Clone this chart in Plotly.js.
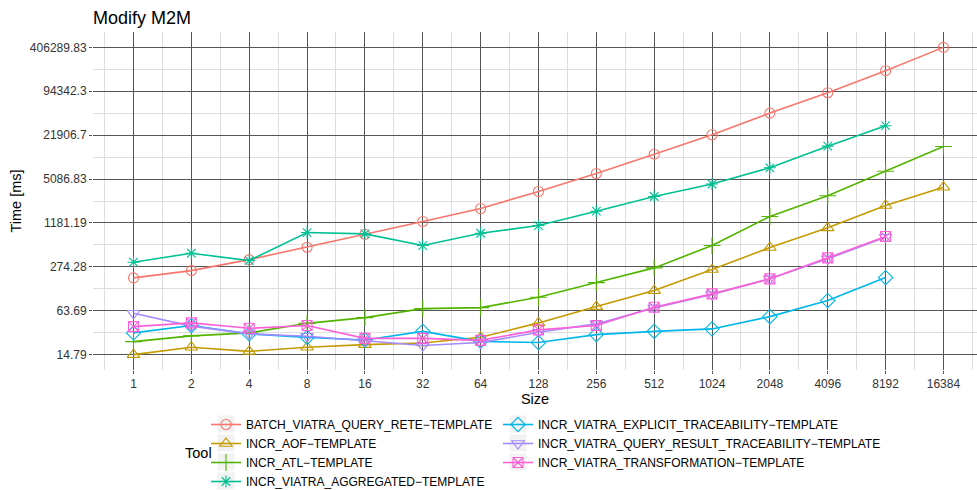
<!DOCTYPE html>
<html>
<head>
<meta charset="utf-8">
<script src="https://cdn.plot.ly/plotly-3.0.1.min.js"></script>
<style>
  html, body { margin: 0; padding: 0; background: #ffffff; overflow: hidden; }
  #chart { width: 977px; height: 490px; }
</style>
</head>
<body>
<div id="chart"></div>
<script>
// ---- Data ----
const sizes = [1, 2, 4, 8, 16, 32, 64, 128, 256, 512, 1024, 2048, 4096, 8192, 16384];
const sizeLabels = ["1", "2", "4", "8", "16", "32", "64", "128", "256", "512", "1024", "2048", "4096", "8192", "16384"];

const tools = [
  "BATCH_VIATRA_QUERY_RETE\u2212TEMPLATE",
  "INCR_AOF\u2212TEMPLATE",
  "INCR_ATL\u2212TEMPLATE",
  "INCR_VIATRA_AGGREGATED\u2212TEMPLATE",
  "INCR_VIATRA_EXPLICIT_TRACEABILITY\u2212TEMPLATE",
  "INCR_VIATRA_QUERY_RESULT_TRACEABILITY\u2212TEMPLATE",
  "INCR_VIATRA_TRANSFORMATION\u2212TEMPLATE"
];

const batchViatraQueryRete = [190, 242, 349, 527, 812, 1239, 1910, 3365, 6124, 11640, 22230, 45610, 89940, 187100, 406289.83];
const incrAof = [14.79, 18.9, 16.5, 18.9, 20.6, 21.8, 26.3, 42.5, 73.1, 124.5, 250.6, 521, 1004, 2111, 3882];
const incrAtl = [22.8, 27.6, 30.5, 41.9, 50.7, 68.4, 70.7, 99.7, 162.5, 265, 557, 1463, 2914, 6610, 15050];
const incrViatraAggregated = [320, 431, 338, 859, 822, 557, 839, 1084, 1745, 2849, 4317, 7400, 15200, 29990];
const incrViatraExplicit = [30.5, 38.9, 29.5, 26.3, 24.1, 32.1, 23.0, 22.1, 28.8, 32.1, 34.8, 52.4, 89.3, 192];
const incrViatraQueryResult = [58.5, 38.2, 29.5, 27.2, 23.5, 20.0, 22.1, 31.1, 41.1, 70, 109, 184, 358, 735];
const incrViatraTransformation = [37.6, 42.5, 35.5, 38.9, 25.4, 25.4, 23.8, 33.7, 38.9, 71.4, 111.6, 184, 370, 752];

const timeTicks = [14.79, 63.69, 274.28, 1181.19, 5086.83, 21906.7, 94342.3, 406289.83];
const timeTickLabels = ["14.79", "63.69", "274.28", "1181.19", "5086.83", "21906.7", "94342.3", "406289.83"];

// ---- Styles ----
const seriesValues = [batchViatraQueryRete, incrAof, incrAtl, incrViatraAggregated,
  incrViatraExplicit, incrViatraQueryResult, incrViatraTransformation];
const colors = ["#F8766D", "#C49A00", "#53B400", "#00C094", "#00B6EB", "#A58AFF", "#FB61D7"];
const symbols = ["circle-open", "triangle-up-open", "cross-thin-open", "asterisk-open",
  "diamond-open", "triangle-down-open", "square-x-open"];
const markerSizes = [10, 11, 12, 10, 11, 11, 10];
const legendOf = ["legend", "legend", "legend", "legend", "legend2", "legend2", "legend2"];

const traces = tools.map((name, i) => ({
  type: "scatter",
  mode: "lines+markers",
  name: name,
  x: sizes.slice(0, seriesValues[i].length),
  y: seriesValues[i],
  legend: legendOf[i],
  line: { color: colors[i], width: 1.6 },
  marker: { symbol: symbols[i], size: markerSizes[i], color: colors[i], line: { color: colors[i], width: 1.1 } },
  hoverinfo: "x+y+name"
}));

// minor grid positions (midpoints in log space)
const xMinor = [Math.pow(2, -0.5)].concat(sizes.map(s => s * Math.SQRT2));
const yMinor = [];
for (let i = 0; i < timeTicks.length - 1; i++) yMinor.push(Math.sqrt(timeTicks[i] * timeTicks[i + 1]));

const fontFam = "'Liberation Sans', Arial, Helvetica, sans-serif";

// plot-area pixel geometry helpers (for legend placement only)
const PL = 93, PW = 884, PB = 370, PH = 338;
const px2x = p => (p - PL) / PW;
const px2y = p => (PB - p) / PH;

const leg1Left = 206, leg2Left = 498, legTop = 410, rowH = 19, firstRow = 424;
const keyShapes = [];
[[leg1Left, 4], [leg2Left, 3]].forEach(([left, n]) => {
  for (let k = 0; k < n; k++) {
    const cx = left + 20, cy = firstRow + k * rowH;
    keyShapes.push({
      type: "rect", xref: "paper", yref: "paper", layer: "below",
      x0: px2x(cx - 8.5), x1: px2x(cx + 8.5), y0: px2y(cy + 8.5), y1: px2y(cy - 8.5),
      fillcolor: "#f2f2f2", line: { width: 0 }
    });
  }
});

const layout = {
  width: 977,
  height: 490,
  margin: { l: PL, r: 0, t: 32, b: 490 - PB, autoexpand: false },
  paper_bgcolor: "#ffffff",
  plot_bgcolor: "#ffffff",
  font: { family: fontFam, color: "#000000", size: 12 },
  title: {
    text: "Modify M2M",
    font: { family: fontFam, size: 18, color: "#000000" },
    x: 93 / 977, xref: "container", xanchor: "left",
    y: 1 - 17.5 / 490, yref: "container", yanchor: "middle"
  },
  xaxis: {
    type: "log",
    range: [Math.log10(Math.pow(2, -0.7)), Math.log10(Math.pow(2, 14.58))],
    tickmode: "array",
    tickvals: sizes,
    ticktext: sizeLabels,
    ticks: "outside", ticklen: 3, tickwidth: 1, tickcolor: "#555555",
    tickfont: { family: fontFam, size: 12, color: "#333333" },
    showgrid: true, gridcolor: "#555555", gridwidth: 1,
    minor: { tickmode: "array", tickvals: xMinor, showgrid: true, gridcolor: "#dedede", gridwidth: 1, ticks: "" },
    zeroline: false, showline: false,
    title: { text: "Size", font: { family: fontFam, size: 14.5, color: "#000000" }, standoff: 2 },
    automargin: false
  },
  yaxis: {
    type: "log",
    range: [0.948, 5.831],
    tickmode: "array",
    tickvals: timeTicks,
    ticktext: timeTickLabels,
    ticks: "outside", ticklen: 3, tickwidth: 1, tickcolor: "#555555",
    tickfont: { family: fontFam, size: 12, color: "#333333" },
    showgrid: true, gridcolor: "#555555", gridwidth: 1,
    minor: { tickmode: "array", tickvals: yMinor, showgrid: true, gridcolor: "#dedede", gridwidth: 1, ticks: "" },
    zeroline: false, showline: false,
    title: { text: "Time [ms]", font: { family: fontFam, size: 14.5, color: "#000000" }, standoff: 4 },
    automargin: false
  },
  showlegend: true,
  legend: {
    x: px2x(leg1Left), xanchor: "left",
    y: px2y(legTop), yanchor: "top",
    orientation: "v",
    bgcolor: "rgba(0,0,0,0)",
    font: { family: fontFam, size: 12, color: "#000000" },
    itemclick: false, itemdoubleclick: false
  },
  legend2: {
    x: px2x(leg2Left), xanchor: "left",
    y: px2y(legTop), yanchor: "top",
    orientation: "v",
    bgcolor: "rgba(0,0,0,0)",
    font: { family: fontFam, size: 12, color: "#000000" },
    itemclick: false, itemdoubleclick: false
  },
  shapes: keyShapes,
  annotations: [{
    text: "Tool",
    xref: "paper", yref: "paper",
    x: px2x(183), xanchor: "left",
    y: px2y(452.7), yanchor: "middle",
    showarrow: false,
    font: { family: fontFam, size: 14.5, color: "#000000" }
  }]
};

Plotly.newPlot("chart", traces, layout, { displayModeBar: false, staticPlot: true });
</script>
</body>
</html>
